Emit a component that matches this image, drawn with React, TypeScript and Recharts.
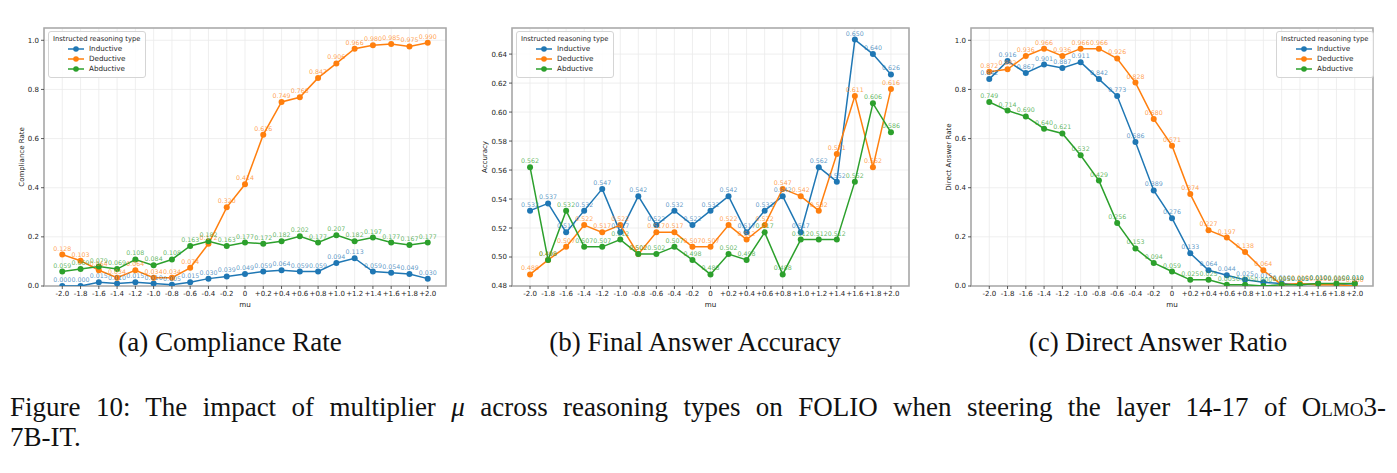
import React from "react";
import {
  LineChart,
  Line,
  XAxis,
  YAxis,
  CartesianGrid,
  Legend,
  LabelList,
  ReferenceArea,
} from "recharts";

const muLabels = [
  "-2.0", "-1.8", "-1.6", "-1.4", "-1.2", "-1.0", "-0.8", "-0.6", "-0.4", "-0.2", "0",
  "+0.2", "+0.4", "+0.6", "+0.8", "+1.0", "+1.2", "+1.4", "+1.6", "+1.8", "+2.0",
];

// (a) compliance rate
const complianceInductive = [0.0, 0.0, 0.015, 0.01, 0.015, 0.01, 0.005, 0.015, 0.03, 0.039, 0.049, 0.059, 0.064, 0.059, 0.059, 0.094, 0.113, 0.059, 0.054, 0.049, 0.03];
const complianceDeductive = [0.128, 0.103, 0.064, 0.034, 0.064, 0.034, 0.034, 0.074, 0.172, 0.32, 0.414, 0.616, 0.749, 0.768, 0.847, 0.906, 0.966, 0.98, 0.985, 0.975, 0.99];
const complianceAbductive = [0.059, 0.069, 0.079, 0.069, 0.108, 0.084, 0.108, 0.163, 0.182, 0.163, 0.177, 0.172, 0.182, 0.202, 0.177, 0.207, 0.182, 0.197, 0.177, 0.167, 0.177];

// (b) final answer accuracy
const accuracyInductive = [0.532, 0.537, 0.517, 0.532, 0.547, 0.517, 0.542, 0.522, 0.532, 0.522, 0.532, 0.542, 0.517, 0.532, 0.542, 0.517, 0.562, 0.552, 0.65, 0.64, 0.626];
const accuracyDeductive = [0.488, 0.498, 0.507, 0.522, 0.517, 0.522, 0.502, 0.517, 0.517, 0.507, 0.507, 0.522, 0.512, 0.522, 0.547, 0.542, 0.532, 0.571, 0.611, 0.562, 0.616];
const accuracyAbductive = [0.562, 0.498, 0.532, 0.507, 0.507, 0.512, 0.502, 0.502, 0.507, 0.498, 0.488, 0.502, 0.498, 0.517, 0.488, 0.512, 0.512, 0.512, 0.552, 0.606, 0.586];

// (c) direct answer ratio
const directInductive = [0.842, 0.916, 0.867, 0.901, 0.887, 0.911, 0.842, 0.773, 0.586, 0.389, 0.276, 0.133, 0.064, 0.044, 0.025, 0.015, 0.01, 0.005, 0.01, 0.005, 0.01];
const directDeductive = [0.872, 0.882, 0.936, 0.966, 0.936, 0.966, 0.966, 0.926, 0.828, 0.68, 0.571, 0.374, 0.227, 0.197, 0.138, 0.064, 0.005, 0.01, 0.005, 0.005, 0.0];
const directAbductive = [0.749, 0.714, 0.69, 0.64, 0.621, 0.532, 0.429, 0.256, 0.153, 0.094, 0.059, 0.025, 0.025, 0.005, 0.005, 0.0, 0.005, 0.005, 0.01, 0.01, 0.01];

const seriesNames = ["Inductive", "Deductive", "Abductive"];
const colors = ["#1f77b4", "#ff7f0e", "#2ca02c"];
const keys = ["inductive", "deductive", "abductive"];

const mpl = "'DejaVu Sans', sans-serif";

const buildRows = (a: number[], b: number[], c: number[]) =>
  muLabels.map((m, i) => ({ i, mu: m, inductive: a[i], deductive: b[i], abductive: c[i] }));

const LegendBox = (props: any) => {
  const items = [...(props.payload || [])].sort(
    (p: any, q: any) => seriesNames.indexOf(p.value) - seriesNames.indexOf(q.value)
  );
  return (
    <div
      style={{
        border: "1px solid #d5d5d5",
        borderRadius: 3,
        background: "rgba(255,255,255,0.85)",
        padding: "2px 4px 3px 4px",
        fontFamily: mpl,
        color: "#262626",
        lineHeight: "10px",
      }}
    >
      <div style={{ fontSize: 6.8, textAlign: "center" }}>Instructed reasoning type</div>
      {items.map((p: any) => (
        <div key={p.value} style={{ display: "flex", alignItems: "center", fontSize: 7.2, paddingLeft: 14 }}>
          <svg width={18} height={8} style={{ marginRight: 4 }}>
            <line x1={1} y1={4} x2={17} y2={4} stroke={p.color} strokeWidth={1.5} />
            <circle cx={9} cy={4} r={2.8} fill={p.color} />
          </svg>
          <span>{p.value}</span>
        </div>
      ))}
    </div>
  );
};

type PanelProps = {
  left: number;
  plotWidth: number;
  rows: any[];
  yDomain: [number, number];
  yTicks: number[];
  yDigits: number;
  ylabel: string;
  ylabelGap: number;
  legendLeft: number;
};

const Panel = ({ left, plotWidth, rows, yDomain, yTicks, yDigits, ylabel, ylabelGap, legendLeft }: PanelProps) => {
  const width = plotWidth + 44 + 20;
  return (
    <div style={{ position: "absolute", left: left - 44, top: 0 }}>
      <LineChart width={width} height={320} data={rows} margin={{ top: 28, left: 14, right: 20, bottom: 10 }}>
        <CartesianGrid stroke="#ebebeb" strokeWidth={0.8} />
        <XAxis
          dataKey="i"
          type="number"
          domain={[-1, 21]}
          ticks={rows.map((r) => r.i)}
          interval={0}
          tickFormatter={(v: number) => muLabels[v]}
          height={24}
          axisLine={false}
          tickSize={3}
          tickLine={{ stroke: "#333", strokeWidth: 0.8 }}
          tick={{ fontSize: 7, fill: "#222", fontFamily: mpl }}
          label={{ value: "mu", position: "insideBottom", offset: 3, style: { fontSize: 7.2, fill: "#222", fontFamily: mpl } }}
          allowDataOverflow
        />
        <YAxis
          type="number"
          domain={yDomain}
          ticks={yTicks}
          interval={0}
          tickFormatter={(v: number) => v.toFixed(yDigits)}
          width={30}
          axisLine={false}
          tickSize={3}
          tickLine={{ stroke: "#333", strokeWidth: 0.8 }}
          tick={{ fontSize: 7, fill: "#222", fontFamily: mpl }}
          label={{
            value: ylabel,
            angle: -90,
            position: "insideLeft",
            offset: 30 - ylabelGap,
            style: { fontSize: 7, fill: "#222", fontFamily: mpl, textAnchor: "middle" },
          }}
          allowDataOverflow
        />
        <ReferenceArea x1={-1} x2={21} y1={yDomain[0]} y2={yDomain[1]} fill="none" stroke="#a8a8a8" strokeWidth={1.6} />
        <Legend
          layout="vertical"
          align="center"
          verticalAlign="middle"
          content={<LegendBox />}
          wrapperStyle={{ position: "absolute", left: legendLeft, top: 31, width: "auto", height: "auto" }}
        />
        {keys.map((k, idx) => (
          <Line
            key={k}
            dataKey={k}
            name={seriesNames[idx]}
            stroke={colors[idx]}
            strokeWidth={1.5}
            dot={{ r: 3, fill: colors[idx], stroke: colors[idx], strokeWidth: 0 }}
            activeDot={false}
            isAnimationActive={false}
          >
            <LabelList
              dataKey={k}
              position="top"
              offset={4}
              formatter={(v: any) => Number(v).toFixed(3)}
              fill={colors[idx]}
              fillOpacity={0.75}
              fontSize={6.3}
              fontFamily={mpl}
            />
          </Line>
        ))}
      </LineChart>
    </div>
  );
};

const serif = "'Liberation Serif', 'Times New Roman', serif";

const Caption = ({ cx, children }: { cx: number; children: React.ReactNode }) => (
  <div
    style={{
      position: "absolute",
      left: cx - 200,
      width: 400,
      top: 326,
      textAlign: "center",
      fontFamily: serif,
      fontSize: 27,
      lineHeight: "32px",
      color: "#111",
    }}
  >
    {children}
  </div>
);

const lineStyle: React.CSSProperties = {
  position: "absolute",
  left: 10,
  width: 1376,
  fontFamily: serif,
  fontSize: 27,
  lineHeight: "30px",
  color: "#111",
  whiteSpace: "nowrap",
};

export default function App() {
  return (
    <div style={{ position: "absolute", left: 0, top: 0, width: 1397, height: 473, background: "#fff", overflow: "hidden" }}>
      <Panel
        left={44}
        plotWidth={402}
        rows={buildRows(complianceInductive, complianceDeductive, complianceAbductive)}
        yDomain={[0, 1.05]}
        yTicks={[0, 0.2, 0.4, 0.6, 0.8, 1.0]}
        yDigits={1}
        ylabel="Compliance Rate"
        ylabelGap={22}
        legendLeft={48}
      />
      <Panel
        left={512}
        plotWidth={397}
        rows={buildRows(accuracyInductive, accuracyDeductive, accuracyAbductive)}
        yDomain={[0.48, 0.658]}
        yTicks={[0.48, 0.5, 0.52, 0.54, 0.56, 0.58, 0.6, 0.62, 0.64]}
        yDigits={2}
        ylabel="Accuracy"
        ylabelGap={27}
        legendLeft={48}
      />
      <Panel
        left={971}
        plotWidth={402}
        rows={buildRows(directInductive, directDeductive, directAbductive)}
        yDomain={[0, 1.05]}
        yTicks={[0, 0.2, 0.4, 0.6, 0.8, 1.0]}
        yDigits={1}
        ylabel="Direct Answer Rate"
        ylabelGap={22}
        legendLeft={349}
      />
      <Caption cx={230}>(a) Compliance Rate</Caption>
      <Caption cx={695}>(b) Final Answer Accuracy</Caption>
      <Caption cx={1158}>(c) Direct Answer Ratio</Caption>
      <div style={{ ...lineStyle, top: 392, textAlign: "justify", textAlignLast: "justify" }}>
        Figure 10: The impact of multiplier <i>μ</i> across reasoning types on FOLIO when steering the layer 14-17 of{" "}
        <span style={{ fontVariant: "small-caps" }}>Olmo3</span>-
      </div>
      <div style={{ ...lineStyle, top: 422 }}>7B-IT.</div>
    </div>
  );
}
